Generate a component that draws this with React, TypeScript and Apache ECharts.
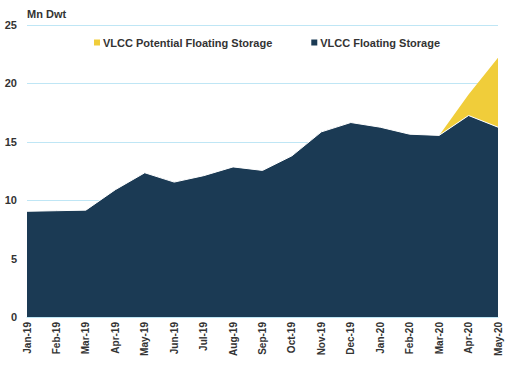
import React, { useEffect, useRef } from "react";
import * as echarts from "echarts";

const categories = ["Jan-19","Feb-19","Mar-19","Apr-19","May-19","Jun-19","Jul-19","Aug-19","Sep-19","Oct-19","Nov-19","Dec-19","Jan-20","Feb-20","Mar-20","Apr-20","May-20"];
const floating = [9.05, 9.1, 9.15, 10.9, 12.35, 11.55, 12.1, 12.85, 12.55, 13.8, 15.85, 16.65, 16.25, 15.65, 15.55, 17.25, 16.25];
const potential: (number | string)[] = ["-","-","-","-","-","-","-","-","-","-","-","-","-","-", 0, 1.8, 5.95];
const yTicks = { min: 0, max: 25, interval: 5 };

export default function App() {
  const ref = useRef<HTMLDivElement>(null);
  useEffect(() => {
    const chart = echarts.init(ref.current!, null, { renderer: "svg" });
    const font = "'Liberation Sans', Arial, sans-serif";
    chart.setOption({
      animation: false,
      grid: { left: 27, right: 10, top: 25, bottom: 59, outerBoundsMode: "none", containLabel: false },
      title: {
        text: "Mn Dwt", left: 27, top: 8, padding: 0,
        textStyle: { fontSize: 11, fontWeight: "bold", color: "#333", fontFamily: font },
      },
      legend: {
        top: 37, left: 94, padding: 0, itemGap: 39, itemWidth: 6, itemHeight: 6, icon: "rect",
        data: ["VLCC Potential Floating Storage", "VLCC Floating Storage"],
        textStyle: { fontSize: 11, fontWeight: "bold", color: "#333", fontFamily: font, padding: [0, 0, 0, -2] },
      },
      xAxis: {
        type: "category", data: categories, boundaryGap: false,
        axisTick: { show: false },
        axisLine: { lineStyle: { color: "#bfe6f5" } },
        axisLabel: { rotate: 90, fontSize: 10, fontWeight: "bold", color: "#333", fontFamily: font, margin: 5, interval: 0 },
      },
      yAxis: {
        type: "value", ...yTicks,
        axisLabel: { fontSize: 11, fontWeight: "bold", color: "#333", fontFamily: font, margin: 10 },
        splitLine: { lineStyle: { color: "#bfe6f5", width: 1 } },
        axisLine: { show: false }, axisTick: { show: false },
      },
      series: [
        {
          name: "VLCC Floating Storage", type: "line", stack: "s", data: floating,
          symbol: "none", color: "#1b3a54",
          lineStyle: { color: "#ffffff", width: 1 },
          areaStyle: { color: "#1b3a54", opacity: 1 },
          z: 3,
        },
        {
          name: "VLCC Potential Floating Storage", type: "line", stack: "s", data: potential,
          symbol: "none", color: "#f0cd3a",
          lineStyle: { width: 0 },
          areaStyle: { color: "#f0cd3a", opacity: 1 },
          z: 2,
        },
      ],
    });
    return () => chart.dispose();
  }, []);
  return <div ref={ref} style={{ position: "absolute", left: 0, top: 0, width: 508, height: 376 }} />;
}
